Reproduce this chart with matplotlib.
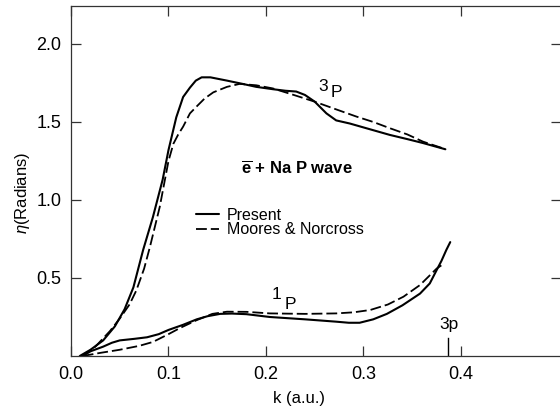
import matplotlib
matplotlib.use("Agg")
import matplotlib.pyplot as plt

plt.rcParams['font.family'] = ['Liberation Sans', 'DejaVu Sans']
plt.rcParams['mathtext.fontset'] = 'custom'
plt.rcParams['mathtext.rm'] = 'Liberation Sans'
plt.rcParams['mathtext.it'] = 'Liberation Sans:italic'
plt.rcParams['mathtext.bf'] = 'Liberation Sans:bold'

# ---- data (k in a.u., eta in radians) ----
k_3p_present = [0.009, 0.02, 0.033, 0.045, 0.055, 0.064, 0.074, 0.084, 0.094, 0.100,
                0.108, 0.115, 0.122, 0.128, 0.134, 0.143, 0.160, 0.176, 0.190, 0.207,
                0.220, 0.231, 0.240, 0.250, 0.262, 0.272, 0.286, 0.300, 0.327, 0.345,
                0.361, 0.384]
eta_3p_present = [0.0, 0.04, 0.10, 0.19, 0.30, 0.44, 0.68, 0.89, 1.13, 1.32,
                  1.53, 1.66, 1.72, 1.765, 1.786, 1.786, 1.765, 1.744, 1.725, 1.71,
                  1.70, 1.695, 1.673, 1.63, 1.555, 1.51, 1.49, 1.465, 1.417, 1.39,
                  1.365, 1.325]

k_3p_mn = [0.012, 0.025, 0.04, 0.05, 0.06, 0.067, 0.075, 0.081, 0.091, 0.100,
           0.105, 0.110, 0.115, 0.122, 0.129, 0.137, 0.146, 0.160, 0.173, 0.190,
           0.207, 0.225, 0.250, 0.270, 0.293, 0.310, 0.327, 0.345, 0.361, 0.382]
eta_3p_mn = [0.0, 0.06, 0.16, 0.24, 0.33, 0.42, 0.56, 0.70, 0.955, 1.25,
             1.36, 1.42, 1.47, 1.555, 1.60, 1.65, 1.69, 1.725, 1.744, 1.735,
             1.715, 1.68, 1.63, 1.585, 1.534, 1.50, 1.46, 1.42, 1.374, 1.33]

k_1p_present = [0.012, 0.02, 0.033, 0.042, 0.05, 0.065, 0.078, 0.09, 0.10, 0.115,
                0.129, 0.14, 0.153, 0.165, 0.18, 0.204, 0.24, 0.272, 0.285, 0.296,
                0.31, 0.324, 0.34, 0.358, 0.368, 0.375, 0.38, 0.385, 0.389]
eta_1p_present = [0.0, 0.03, 0.06, 0.085, 0.10, 0.11, 0.12, 0.14, 0.167, 0.20,
                  0.235, 0.255, 0.27, 0.272, 0.268, 0.25, 0.235, 0.22, 0.213, 0.213,
                  0.235, 0.27, 0.325, 0.40, 0.465, 0.55, 0.61, 0.68, 0.73]

k_1p_mn = [0.012, 0.03, 0.05, 0.07, 0.084, 0.10, 0.112, 0.129, 0.145, 0.16,
           0.18, 0.204, 0.24, 0.272, 0.29, 0.307, 0.325, 0.341, 0.358, 0.375, 0.382]
eta_1p_mn = [0.0, 0.02, 0.04, 0.065, 0.09, 0.14, 0.18, 0.23, 0.27, 0.284,
             0.283, 0.273, 0.27, 0.273, 0.28, 0.295, 0.33, 0.38, 0.455, 0.56, 0.59]

threshold_k = 0.387
xticks = [0.0, 0.1, 0.2, 0.3, 0.4]
xticklabels = ['0.0', '0.1', '0.2', '0.3', '0.4']
yticks = [0.5, 1.0, 1.5, 2.0]
yticklabels = ['0.5', '1.0', '1.5', '2.0']

# ---- figure ----
W, H = 560, 411
fig = plt.figure(figsize=(W / 100, H / 100), dpi=100)
left_px, right_px, top_px, bot_px = 71, 561, 6.5, 356
ax = fig.add_axes([left_px / W, 1 - bot_px / H, (right_px - left_px) / W, (bot_px - top_px) / H])
ax.set_xlim(0, 0.5026)
ax.set_ylim(0, 2.24)

lw = 1.5
dash = (0, (6, 2.2))
l1, = ax.plot(k_3p_present, eta_3p_present, color='black', lw=lw,
              solid_capstyle='round', solid_joinstyle='round')
l2, = ax.plot(k_3p_mn, eta_3p_mn, color='black', lw=1.3, linestyle=dash)
ax.plot(k_1p_present, eta_1p_present, color='black', lw=lw,
        solid_capstyle='round', solid_joinstyle='round')
ax.plot(k_1p_mn, eta_1p_mn, color='black', lw=1.3, linestyle=dash)

# threshold marker
ax.plot([threshold_k, threshold_k], [0, 0.115], color='black', lw=1.0)
ax.text(threshold_k + 0.001, 0.2, '3p', ha='center', va='center', fontsize=12.5)

# curve labels
ax.text(0.259, 1.725, '3', ha='center', va='center', fontsize=12.5)
ax.text(0.272, 1.69, 'P', ha='center', va='center', fontsize=12.5)
ax.text(0.211, 0.395, '1', ha='center', va='center', fontsize=12.5)
ax.text(0.225, 0.33, 'P', ha='center', va='center', fontsize=12.5)

ax.text(0.232, 1.205, r'$\overline{\mathbf{e}}$ + Na P wave', ha='center', va='center',
        fontsize=12, fontweight='bold')

leg = ax.legend([l1, l2], ['Present', 'Moores & Norcross'], loc='upper left',
                bbox_to_anchor=(196 / W, 1 - 208 / H), bbox_transform=fig.transFigure,
                frameon=False, fontsize=11.5, handlelength=1.45, handletextpad=0.5,
                labelspacing=-0.05, borderpad=0, borderaxespad=0)

# axes styling
for s in ax.spines.values():
    s.set_color('#333333')
    s.set_linewidth(0.9)

ax.set_xticks(xticks)
ax.set_xticklabels(xticklabels)
ax.set_yticks(yticks)
ax.set_yticklabels(yticklabels)
ax.tick_params(axis='both', direction='in', length=7, width=0.9, color='#333333',
               labelsize=13, top=True, right=True)
ax.tick_params(axis='x', pad=7)
ax.tick_params(axis='y', pad=7)

ax.set_xlabel('k (a.u.)', fontsize=12)
ax.set_ylabel(r'$\eta$(Radians)', fontsize=12)
ax.xaxis.set_label_coords((299 - left_px) / (right_px - left_px), (bot_px - 391) / (bot_px - top_px))
ax.yaxis.set_label_coords((32 - left_px) / (right_px - left_px), (bot_px - 193) / (bot_px - top_px))

fig.savefig('out.png', dpi=100)
